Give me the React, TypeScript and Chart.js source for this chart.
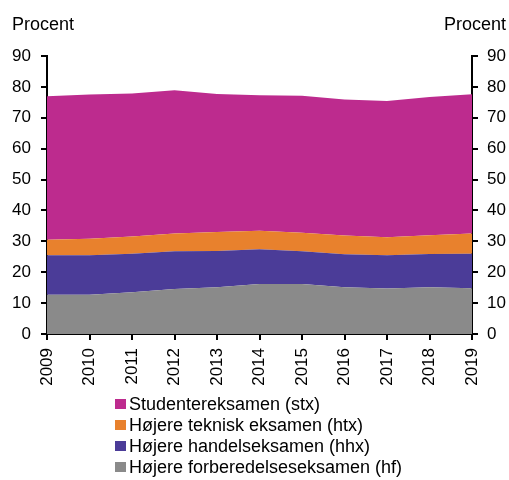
import React, { useEffect, useRef } from "react";
import { Chart, registerables } from "chart.js";

Chart.register(...registerables);

const years = ["2009", "2010", "2011", "2012", "2013", "2014", "2015", "2016", "2017", "2018", "2019"];
const hf = [12.7, 12.7, 13.5, 14.6, 15.1, 16.2, 16.2, 15.1, 14.7, 15.1, 14.8];
const hhx = [12.8, 12.8, 12.5, 12.2, 11.8, 11.2, 10.6, 10.7, 10.8, 10.8, 11.2];
const htx = [5.0, 5.3, 5.6, 5.7, 6.1, 6.0, 6.0, 6.1, 5.8, 6.1, 6.5];
const stx = [46.5, 46.7, 46.3, 46.4, 44.7, 43.9, 44.3, 44.0, 44.1, 44.7, 45.1];
const yTicks = [0, 10, 20, 30, 40, 50, 60, 70, 80, 90];
const axisTitle = "Procent";

const series = [
  { label: "Højere forberedelseseksamen (hf)", data: hf, color: "#8a8a8a" },
  { label: "Højere handelseksamen (hhx)", data: hhx, color: "#4b3c98" },
  { label: "Højere teknisk eksamen (htx)", data: htx, color: "#e8812d" },
  { label: "Studentereksamen (stx)", data: stx, color: "#bd2b8e" },
];

const FONT = "Liberation Sans, Arial, sans-serif";

export default function App() {
  const ref = useRef<HTMLCanvasElement>(null);
  useEffect(() => {
    document.body.style.margin = "0";
    const canvas = ref.current!;
    const overlay = {
      id: "overlay",
      afterDraw(chart: any) {
        const ctx = chart.ctx;
        ctx.save();
        ctx.fillStyle = "#000";
        ctx.font = `18px ${FONT}`;
        ctx.textBaseline = "alphabetic";
        ctx.textAlign = "left";
        ctx.fillText(axisTitle, 12, 30);
        ctx.textAlign = "right";
        ctx.fillText(axisTitle, 506, 30);
        // legend
        ctx.font = `18px ${FONT}`;
        ctx.textAlign = "left";
        ctx.textBaseline = "middle";
        const rev = [...series].reverse();
        rev.forEach((s, i) => {
          const cy = 404 + i * 21;
          ctx.fillStyle = s.color;
          ctx.fillRect(115, cy - 5, 11, 10);
          ctx.fillStyle = "#000";
          ctx.fillText(s.label, 129, cy + 1);
        });
        ctx.restore();
      },
    };
    const chart = new Chart(canvas, {
      type: "line",
      data: {
        labels: years,
        datasets: series.map((s, i) => ({
          label: s.label,
          data: s.data,
          backgroundColor: s.color,
          borderColor: s.color,
          borderWidth: 0,
          pointRadius: 0,
          fill: i === 0 ? "origin" : "-1",
          tension: 0,
          yAxisID: "y",
        })),
      },
      options: {
        animation: false,
        responsive: false,
        layout: { padding: { top: 56, left: 0, right: 0, bottom: 0 } },
        plugins: { legend: { display: false }, tooltip: { enabled: false } },
        scales: {
          x: {
            offset: false,
            grid: { display: true, drawOnChartArea: false, drawTicks: true, tickLength: 6, color: "#000", lineWidth: 2 },
            border: { display: true, color: "#000", width: 2 },
            ticks: { minRotation: 90, maxRotation: 90, autoSkip: false, color: "#000", font: { family: FONT, size: 17 }, padding: 8 },
            afterFit: (s: any) => { s.height = 146; },
          },
          y: {
            stacked: true,
            min: 0,
            max: 90,
            position: "left",
            afterBuildTicks: (s: any) => { s.ticks = yTicks.map((v) => ({ value: v })); },
            grid: { display: true, drawOnChartArea: false, drawTicks: true, tickLength: 6, color: "#000", lineWidth: 2 },
            border: { display: true, color: "#000", width: 2 },
            ticks: { color: "#000", font: { family: FONT, size: 17 }, padding: 10 },
            afterFit: (s: any) => { s.width = 47; },
          },
          y2: {
            min: 0,
            max: 90,
            position: "right",
            afterBuildTicks: (s: any) => { s.ticks = yTicks.map((v) => ({ value: v })); },
            grid: { display: true, drawOnChartArea: false, drawTicks: true, tickLength: 6, color: "#000", lineWidth: 2 },
            border: { display: true, color: "#000", width: 2 },
            ticks: { color: "#000", font: { family: FONT, size: 17 }, padding: 9 },
            afterFit: (s: any) => { s.width = 37; },
          },
        },
      },
      plugins: [overlay],
    } as any);
    return () => chart.destroy();
  }, []);
  return (
    <div style={{ position: "relative", width: 509, height: 480 }}>
      <canvas ref={ref} width={509} height={480} style={{ display: "block", width: 509, height: 480 }} />
    </div>
  );
}
